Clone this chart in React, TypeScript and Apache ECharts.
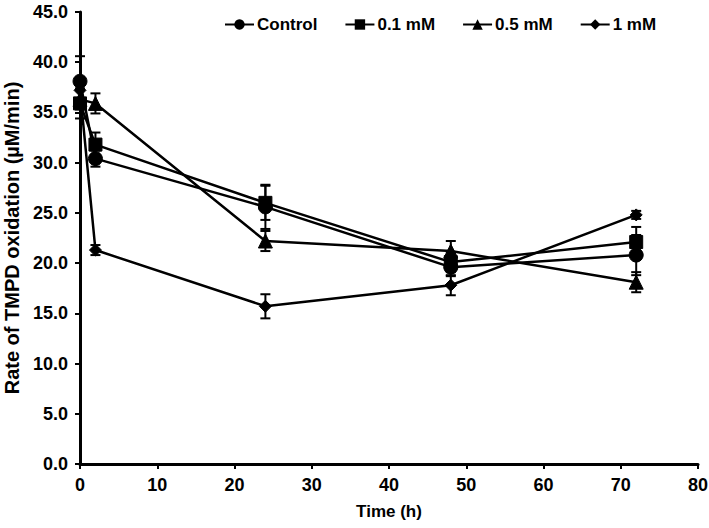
import React, { useEffect, useRef } from "react";
import * as echarts from "echarts";

const times = [0, 2, 24, 48, 72];
const seriesNames = ["Control", "0.1 mM", "0.5 mM", "1 mM"];
const controlVals = [38.1, 30.4, 25.6, 19.6, 20.8];
const controlErr = [2.5, 0.8, 2.2, 0.9, 2.0];
const mM01Vals = [35.9, 31.8, 26.0, 20.1, 22.1];
const mM01Err = [1.5, 1.2, 1.7, 1.0, 1.5];
const mM05Vals = [36.3, 35.9, 22.2, 21.2, 18.1];
const mM05Err = [1.0, 1.0, 1.0, 1.0, 1.0];
const mM1Vals = [37.2, 21.3, 15.7, 17.8, 24.8];
const mM1Err = [1.0, 0.5, 1.2, 1.0, 0.4];

const allVals = [controlVals, mM01Vals, mM05Vals, mM1Vals];
const allErr = [controlErr, mM01Err, mM05Err, mM1Err];
const symbols = ["circle", "rect", "triangle", "diamond"];
const symbolSizes = [14, 13, 14, 12];

const FONT = "'Liberation Sans', Arial, sans-serif";

export default function App() {
  const ref = useRef<HTMLDivElement>(null);
  useEffect(() => {
    if (!ref.current) return;
    const chart = echarts.init(ref.current, null, { renderer: "svg" });
    const series: any[] = [];
    allVals.forEach((vals, si) => {
      const errs = allErr[si];
      series.push({
        type: "custom",
        name: seriesNames[si] + " err",
        data: times.map((t, i) => [t, vals[i], errs[i]]),
        silent: true,
        z: 1,
        renderItem: (params: any, api: any) => {
          const x = api.value(0);
          const y = api.value(1);
          const e = api.value(2);
          const top = api.coord([x, y + e]);
          const bot = api.coord([x, y - e]);
          const hw = 5;
          const st = { stroke: "#000", lineWidth: 2 };
          return {
            type: "group",
            children: [
              { type: "line", shape: { x1: top[0], y1: top[1], x2: bot[0], y2: bot[1] }, style: st },
              { type: "line", shape: { x1: top[0] - hw, y1: top[1], x2: top[0] + hw, y2: top[1] }, style: st },
              { type: "line", shape: { x1: bot[0] - hw, y1: bot[1], x2: bot[0] + hw, y2: bot[1] }, style: st },
            ],
          };
        },
      });
    });
    allVals.forEach((vals, si) => {
      series.push({
        type: "line",
        name: seriesNames[si],
        data: times.map((t, i) => [t, vals[i]]),
        symbol: symbols[si],
        symbolSize: symbolSizes[si],
        lineStyle: { color: "#000", width: 2.5 },
        itemStyle: { color: "#000", borderColor: "#000" },
        z: 3,
      });
    });
    const labelStyle = { fontFamily: FONT, fontWeight: "bold", fontSize: 18, color: "#000" };
    chart.setOption({
      animation: false,
      backgroundColor: "#fff",
      textStyle: { fontFamily: FONT },
      grid: { left: 80, right: 11, top: 12, bottom: 64, containLabel: false, outerBoundsMode: "none" },
      legend: {
        data: seriesNames,
        top: 11,
        left: 219,
        itemWidth: 29,
        itemHeight: 13,
        itemGap: 27,
        textStyle: { fontFamily: FONT, fontWeight: "bold", fontSize: 17, color: "#000", padding: [0, 0, 0, -2] },
      },
      xAxis: {
        type: "value",
        min: 0,
        max: 80,
        interval: 10,
        name: "Time (h)",
        nameLocation: "middle",
        nameGap: 39,
        nameTextStyle: { fontFamily: FONT, fontWeight: "bold", fontSize: 17, color: "#000" },
        axisLine: { lineStyle: { color: "#000", width: 3 } },
        axisTick: { show: true, length: 5, lineStyle: { color: "#000", width: 2 } },
        axisLabel: { ...labelStyle, margin: 12 },
        splitLine: { show: false },
      },
      yAxis: {
        type: "value",
        min: 0,
        max: 45,
        interval: 5,
        name: "Rate of TMPD oxidation (µM/min)",
        nameLocation: "middle",
        nameGap: 53,
        nameTextStyle: { fontFamily: FONT, fontWeight: "bold", fontSize: 20, color: "#000" },
        axisLine: { show: true, lineStyle: { color: "#000", width: 3 } },
        axisTick: { show: true, length: 5, lineStyle: { color: "#000", width: 2 } },
        axisLabel: {
          ...labelStyle,
          margin: 12,
          formatter: (v: number) => v.toFixed(1),
        },
        splitLine: { show: false },
      },
      series,
    });
    return () => chart.dispose();
  }, []);
  return <div ref={ref} style={{ width: 709, height: 528, position: "absolute", left: 0, top: 0 }} />;
}
